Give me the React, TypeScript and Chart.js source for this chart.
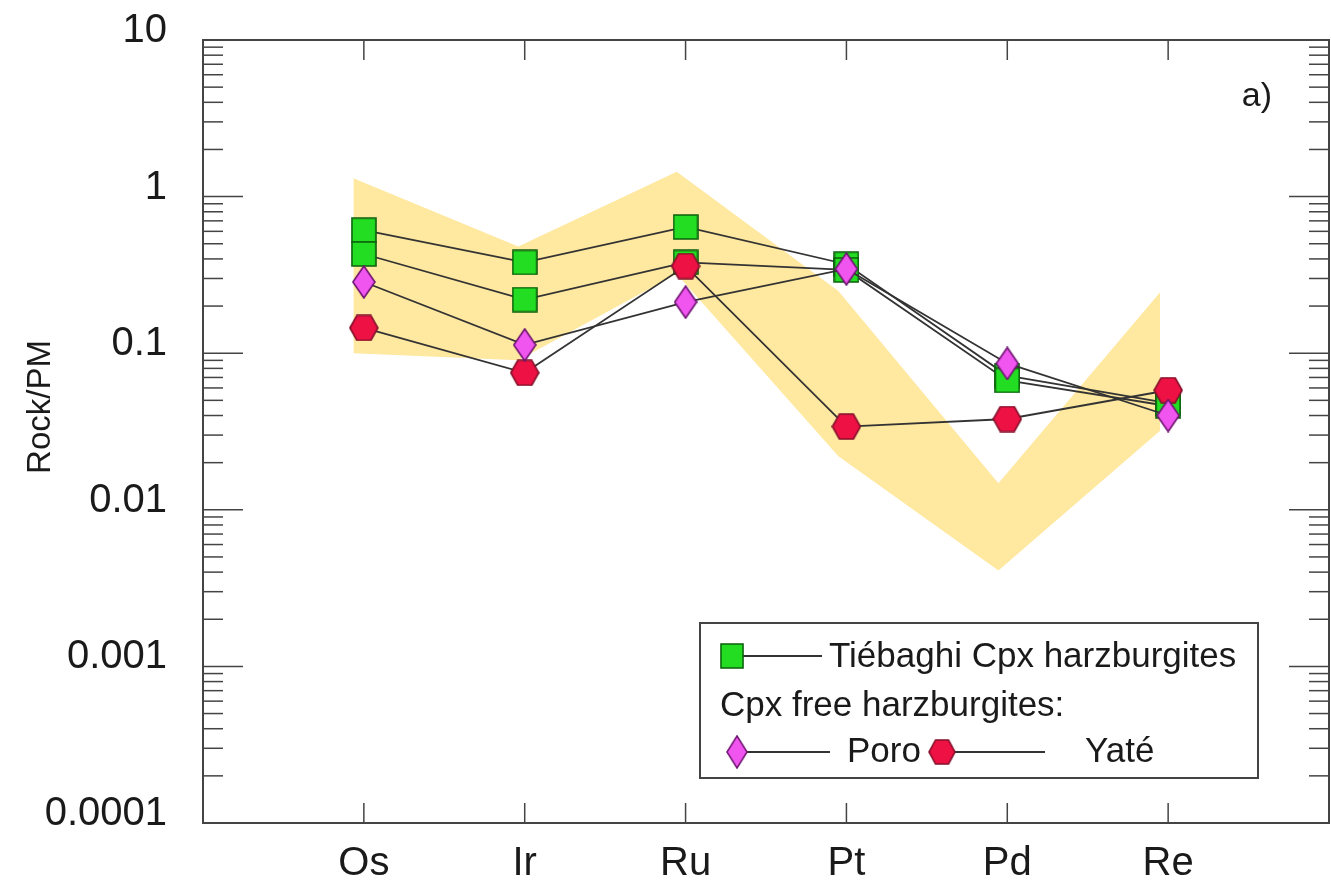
import React, { useEffect, useRef } from "react";
import { Chart, registerables } from "chart.js";

Chart.register(...registerables);

// ---------- data ----------
const categories = ["Os", "Ir", "Ru", "Pt", "Pd", "Re"];
const categoryPositions = [1, 2, 3, 4, 5, 6];
const yTickValues = [0.0001, 0.001, 0.01, 0.1, 1, 10];
const yTickLabels = ["0.0001", "0.001", "0.01", "0.1", "1", "10"];
const minorMultipliers = [2, 3, 4, 5, 6, 7, 8, 9];

const tiebaghi1 = [0.61, 0.38, 0.64, 0.37, 0.072, 0.048];
const tiebaghi2 = [0.43, 0.22, 0.38, 0.34, 0.067, 0.046];
const poro = [0.285, 0.113, 0.212, 0.345, 0.086, 0.04];
const yate = [0.145, 0.075, 0.36, 0.034, 0.038, 0.058];

const bandPositions = [0.935, 1.96, 2.945, 3.95, 4.945, 5.95];
const bandUpper = [1.31, 0.48, 1.44, 0.25, 0.0148, 0.245];
const bandLower = [0.1, 0.09, 0.32, 0.022, 0.0041, 0.032];

const legendMain = "Tiébaghi Cpx harzburgites";
const legendGroup = "Cpx free harzburgites:";
const legendPoro = "Poro";
const legendYate = "Yaté";
const panelLabel = "a)";
const yTitle = "Rock/PM";

// ---------- styles ----------
const FONT = "'Liberation Sans', Arial, sans-serif";
const GREEN = "#22DD22";
const GREEN_B = "#0B5F0B";
const MAG = "#F055F0";
const MAG_B = "#6E1470";
const RED = "#EE1144";
const RED_B = "#84102A";
const BAND = "#FFE8A0";
const LINE = "#333333";
const AXIS = "#444444";
const TEXT = "#1a1a1a";

function makeSquare(): HTMLCanvasElement {
  const c = document.createElement("canvas");
  c.width = 26; c.height = 26;
  const g = c.getContext("2d")!;
  g.fillStyle = GREEN; g.strokeStyle = GREEN_B; g.lineWidth = 1.6;
  g.beginPath(); g.rect(1, 1, 24, 24); g.fill(); g.stroke();
  return c;
}
function makeDiamond(): HTMLCanvasElement {
  const c = document.createElement("canvas");
  c.width = 24; c.height = 34;
  const g = c.getContext("2d")!;
  g.fillStyle = MAG; g.strokeStyle = MAG_B; g.lineWidth = 1.6;
  g.beginPath();
  g.moveTo(12, 1); g.lineTo(23, 17); g.lineTo(12, 33); g.lineTo(1, 17); g.closePath();
  g.fill(); g.stroke();
  return c;
}
function makeHex(): HTMLCanvasElement {
  const c = document.createElement("canvas");
  c.width = 30; c.height = 27;
  const g = c.getContext("2d")!;
  g.fillStyle = RED; g.strokeStyle = RED_B; g.lineWidth = 1.6;
  g.beginPath();
  g.moveTo(1, 13.5); g.lineTo(8, 1); g.lineTo(22, 1); g.lineTo(29, 13.5);
  g.lineTo(22, 26); g.lineTo(8, 26); g.closePath();
  g.fill(); g.stroke();
  return c;
}

export default function App() {
  const ref = useRef<HTMLCanvasElement | null>(null);

  useEffect(() => {
    if (!ref.current) return;
    const sq = makeSquare();
    const di = makeDiamond();
    const hx = makeHex();

    const pts = (vals: number[]) => categoryPositions.map((p, i) => ({ x: p, y: vals[i] }));
    const lineDs = (vals: number[], style: HTMLCanvasElement, order: number) => ({
      type: "line" as const,
      data: pts(vals),
      borderColor: LINE,
      borderWidth: 1.8,
      pointStyle: style,
      pointRadius: 12,
      fill: false,
      order,
    });

    const decor = {
      id: "decor",
      beforeDatasetsDraw(chart: any) {
        const { ctx, chartArea: a, scales } = chart;
        const x = scales.x, y = scales.y;
        ctx.save();
        ctx.strokeStyle = AXIS;
        ctx.lineWidth = 1.5;
        const ln = (x1: number, y1: number, x2: number, y2: number) => {
          ctx.beginPath(); ctx.moveTo(x1, y1); ctx.lineTo(x2, y2); ctx.stroke();
        };
        yTickValues.forEach((v, d) => {
          const py = y.getPixelForValue(v);
          ln(a.left, py, a.left + 40, py);
          ln(a.right, py, a.right - 40, py);
          if (d < yTickValues.length - 1) {
            minorMultipliers.forEach((m) => {
              const pm = y.getPixelForValue(v * m);
              ln(a.left, pm, a.left + 20, pm);
              ln(a.right, pm, a.right - 20, pm);
            });
          }
        });
        categoryPositions.forEach((p) => {
          const px = x.getPixelForValue(p);
          ln(px, a.bottom, px, a.bottom - 20);
          ln(px, a.top, px, a.top + 20);
        });
        ctx.lineWidth = 2;
        ctx.strokeRect(a.left, a.top, a.right - a.left, a.bottom - a.top);
        ctx.restore();
      },
      afterDraw(chart: any) {
        const { ctx } = chart;
        ctx.save();
        ctx.fillStyle = TEXT;
        ctx.font = `33px ${FONT}`;
        ctx.textAlign = "center";
        ctx.textBaseline = "middle";
        ctx.translate(41, 407);
        ctx.rotate(-Math.PI / 2);
        ctx.fillText(yTitle, 0, 0);
        ctx.restore();

        ctx.save();
        ctx.fillStyle = TEXT;
        ctx.font = `34px ${FONT}`;
        ctx.textAlign = "right";
        ctx.textBaseline = "middle";
        ctx.fillText(panelLabel, 1272, 97);

        ctx.fillStyle = "#fff";
        ctx.fillRect(700, 623, 558, 155);
        ctx.strokeStyle = AXIS;
        ctx.lineWidth = 2;
        ctx.strokeRect(700, 623, 558, 155);

        ctx.strokeStyle = LINE;
        ctx.lineWidth = 1.8;
        const ln = (x1: number, y1: number, x2: number, y2: number) => {
          ctx.beginPath(); ctx.moveTo(x1, y1); ctx.lineTo(x2, y2); ctx.stroke();
        };
        ln(735, 656, 822, 656);
        ctx.drawImage(sq, 732 - 12, 656 - 13, 24, 26);
        ln(740, 752, 830, 752);
        ctx.drawImage(di, 737 - 11, 752 - 17, 22, 34);
        ln(945, 752, 1045, 752);
        ctx.drawImage(hx, 942 - 14, 752 - 13, 28, 26);

        ctx.fillStyle = TEXT;
        ctx.font = `35px ${FONT}`;
        ctx.textAlign = "left";
        ctx.textBaseline = "middle";
        ctx.fillText(legendMain, 829, 657);
        ctx.fillText(legendGroup, 720, 706);
        ctx.fillText(legendPoro, 847, 752);
        ctx.fillText(legendYate, 1085, 752);
        ctx.restore();
      },
    };

    const chart = new Chart(ref.current, {
      type: "line",
      data: {
        datasets: [
          {
            type: "line",
            data: bandPositions.map((p, i) => ({ x: p, y: bandUpper[i] })),
            borderWidth: 0,
            borderColor: "rgba(0,0,0,0)",
            pointRadius: 0,
            fill: false,
            order: 20,
          } as any,
          {
            type: "line",
            data: bandPositions.map((p, i) => ({ x: p, y: bandLower[i] })),
            borderWidth: 0,
            borderColor: "rgba(0,0,0,0)",
            backgroundColor: BAND,
            pointRadius: 0,
            fill: "-1",
            order: 19,
          } as any,
          lineDs(tiebaghi1, sq, 5) as any,
          lineDs(tiebaghi2, sq, 4) as any,
          lineDs(yate, hx, 3) as any,
          lineDs(poro, di, 2) as any,
        ],
      },
      options: {
        responsive: false,
        animation: false,
        events: [],
        layout: { autoPadding: false, padding: { top: 40, right: 2, left: 0, bottom: 0 } },
        plugins: { legend: { display: false }, tooltip: { enabled: false } },
        scales: {
          x: {
            type: "linear",
            min: 0,
            max: 7,
            grid: { display: false, drawTicks: false },
            border: { display: false },
            afterBuildTicks: (s: any) => {
              s.ticks = categoryPositions.map((v) => ({ value: v }));
            },
            afterFit: (s: any) => {
              s.height = 61;
              s.paddingLeft = 0;
              s.paddingRight = 0;
            },
            ticks: {
              padding: 17,
              color: TEXT,
              font: { family: FONT, size: 40 },
              maxRotation: 0,
              autoSkip: false,
              callback: (v: any) => categories[categoryPositions.indexOf(v)] ?? "",
            },
          },
          y: {
            type: "logarithmic",
            min: 0.0001,
            max: 10,
            grid: { display: false, drawTicks: false },
            border: { display: false },
            afterBuildTicks: (s: any) => {
              s.ticks = yTickValues.map((v) => ({ value: v }));
            },
            afterFit: (s: any) => {
              s.width = 203;
              s.paddingTop = 0;
              s.paddingBottom = 0;
            },
            ticks: {
              padding: 36,
              labelOffset: -9,
              color: TEXT,
              font: { family: FONT, size: 40 },
              autoSkip: false,
              callback: (v: any) => yTickLabels[yTickValues.indexOf(v)] ?? "",
            },
          },
        },
      } as any,
      plugins: [decor],
    });

    return () => chart.destroy();
  }, []);

  return (
    <div style={{ position: "absolute", left: 0, top: 0, width: 1331, height: 884, background: "#fff" }}>
      <canvas ref={ref} width={1331} height={884} style={{ width: 1331, height: 884, display: "block" }} />
    </div>
  );
}
